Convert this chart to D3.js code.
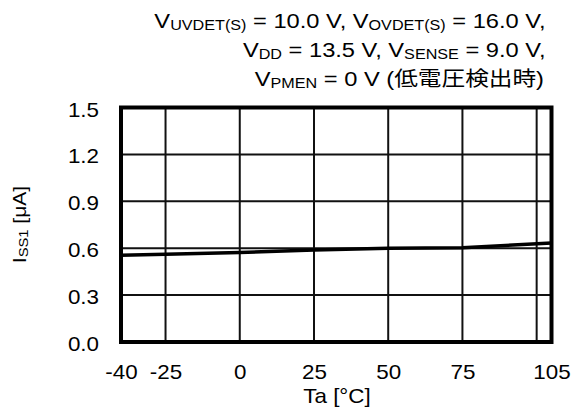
<!DOCTYPE html>
<html>
<head>
<meta charset="utf-8">
<script src="https://cdn.jsdelivr.net/npm/d3@7"></script>
<style>
  html, body { margin: 0; padding: 0; background: #fff; }
  svg { display: block; }
  text { font-family: "Liberation Sans", Arial, "Noto Sans CJK JP", sans-serif; fill: #000; }
</style>
</head>
<body>
<svg id="chart" width="583" height="416"></svg>
<script>
// Supply current vs. ambient temperature
const temps = [-40, -25, 0, 25, 50, 75, 105];
const iss1 = [0.555, 0.562, 0.572, 0.588, 0.600, 0.603, 0.633];

const xTickValues = [-40, -25, 0, 25, 50, 75, 105];
const xGridValues = [-25, 0, 25, 50, 75, 100];
const yTickValues = [0, 0.3, 0.6, 0.9, 1.2, 1.5];
const yGridValues = [0.3, 0.6, 0.9, 1.2];

const svg = d3.select("#chart");
const plot = { left: 121, right: 551.5, top: 107.5, bottom: 342 };
const FS = 20;        // axis font size
const SX = 1.12;      // horizontal glyph stretch for axis text
const TFS = 20.5;     // condition text font size
const TSX = 1.155;    // horizontal glyph stretch for condition text

const x = d3.scaleLinear().domain([-40, 105]).range([plot.left, plot.right]);
const y = d3.scaleLinear().domain([0, 1.5]).range([plot.bottom, plot.top]);

// Condition text, right aligned, with subscripts
const condLines = [
  [["V",""],["UVDET(S)","sub"],[" = 10.0 V, V",""],["OVDET(S)","sub"],[" = 16.0 V,",""]],
  [["V",""],["DD","sub"],[" = 13.5 V, V",""],["SENSE","sub"],[" = 9.0 V,",""]],
  [["V",""],["PMEN","sub"],[" = 0 V (低電圧検出時)",""]]
];
const condBase = [28, 57, 86];
const condRight = [545.5, 545.5, 544];
condLines.forEach((parts, i) => {
  const t = svg.append("g")
    .attr("transform", `translate(${condRight[i]},${condBase[i]}) scale(${TSX},1)`)
    .append("text")
    .attr("text-anchor", "end")
    .style("font-size", TFS + "px");
  let prevSub = false;
  parts.forEach(([s, kind]) => {
    const ts = t.append("tspan").text(s);
    if (kind === "sub") { ts.style("font-size", "14px").attr("dy", 1.5); prevSub = true; }
    else if (prevSub) { ts.attr("dy", -1.5); prevSub = false; }
  });
});

// Grid
const grid = svg.append("g");
grid.selectAll("line.vx").data(xGridValues).join("line")
  .attr("x1", d => x(d)).attr("x2", d => x(d))
  .attr("y1", plot.top).attr("y2", plot.bottom)
  .attr("stroke", "#111").attr("stroke-width", 2);
grid.selectAll("line.hy").data(yGridValues).join("line")
  .attr("x1", plot.left).attr("x2", plot.right)
  .attr("y1", d => y(d)).attr("y2", d => y(d))
  .attr("stroke", "#111").attr("stroke-width", 2);

// Data line
const line = d3.line().x((d, i) => x(temps[i])).y(d => y(d));
svg.append("path")
  .datum(iss1)
  .attr("d", line)
  .attr("fill", "none")
  .attr("stroke", "#000")
  .attr("stroke-width", 3.5)
  .attr("stroke-linejoin", "round");

// Frame
svg.append("rect")
  .attr("x", plot.left).attr("y", plot.top)
  .attr("width", plot.right - plot.left).attr("height", plot.bottom - plot.top)
  .attr("fill", "none").attr("stroke", "#000").attr("stroke-width", 4);

// Axes (labels only)
const xAxis = d3.axisBottom(x).tickValues(xTickValues).tickSize(0).tickPadding(0)
  .tickFormat(d => String(d));
const gx = svg.append("g").attr("transform", `translate(0,${plot.bottom})`).call(xAxis);
gx.attr("font-family", null).attr("font-size", null);
gx.select(".domain").remove();
gx.selectAll("text")
  .attr("y", 37).attr("dy", 0)
  .attr("transform", `scale(${SX},1)`)
  .style("font-size", FS + "px");

const yAxis = d3.axisLeft(y).tickValues(yTickValues).tickSize(0).tickPadding(0)
  .tickFormat(d3.format(".1f"));
const gy = svg.append("g").attr("transform", `translate(${plot.left},0)`).call(yAxis);
gy.attr("font-family", null).attr("font-size", null);
gy.select(".domain").remove();
gy.selectAll("text")
  .attr("x", -22 / SX).attr("dy", 0).attr("y", 8.5)
  .attr("transform", `scale(${SX},1)`)
  .style("font-size", FS + "px");

// Axis titles
svg.append("g")
  .attr("transform", `translate(337,403) scale(${SX},1)`)
  .append("text")
  .attr("text-anchor", "middle")
  .style("font-size", FS + "px")
  .text("Ta [°C]");

const yt = svg.append("g")
  .attr("transform", "translate(26,224.5) rotate(-90) scale(1.17,1)")
  .append("text")
  .attr("text-anchor", "middle")
  .style("font-size", "18px");
yt.append("tspan").text("I");
yt.append("tspan").text("SS1").style("font-size", "12.6px").attr("dy", 1.5);
yt.append("tspan").text(" [μA]").attr("dy", -1.5);
</script>
</body>
</html>
